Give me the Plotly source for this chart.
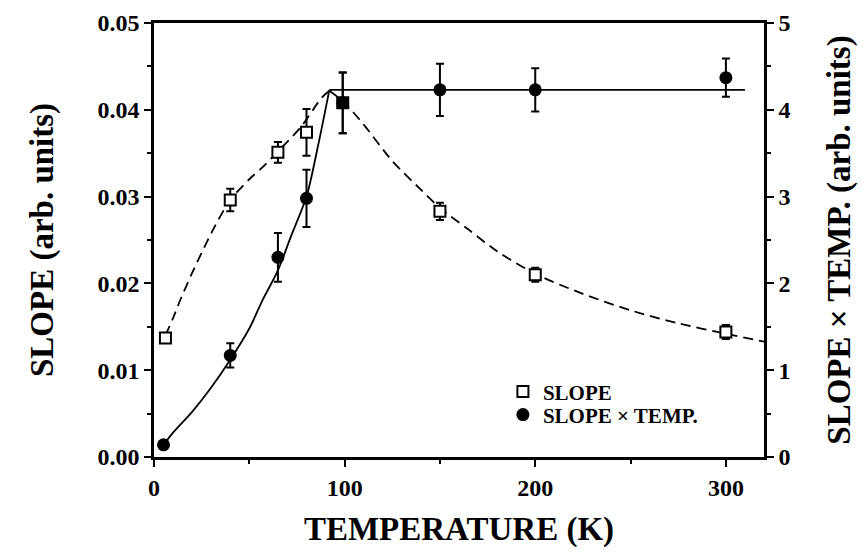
import plotly.graph_objects as go

# measured points
temp = [6, 40, 65, 80, 99, 150, 200, 300]
slope = [0.0137, 0.0296, 0.0351, 0.0374, 0.0408, 0.0283, 0.0210, 0.0144]
slope_err = [0.0004, 0.0013, 0.0012, 0.0027, 0.0035, 0.0010, 0.0008, 0.0008]
slope_fill = ['white', 'white', 'white', 'white', 'black', 'white', 'white', 'white']

temp_st = [5, 40, 65, 80, 99, 150, 200, 300]
slope_t = [0.14, 1.17, 2.30, 2.98, 4.08, 4.23, 4.23, 4.37]
slope_t_err = [0.0, 0.14, 0.28, 0.33, 0.35, 0.30, 0.25, 0.22]

# fit curves (rising and falling parts)
dash_up_t = [6, 10, 14, 20, 31, 40, 50, 57, 65, 77, 88, 92]
dash_up_y = [0.0140, 0.0160, 0.0182, 0.0212, 0.0262, 0.0296, 0.0320, 0.0334, 0.0352, 0.0380,
             0.0414, 0.0422]
dash_down_t = [92, 100, 110, 125, 140, 150, 165, 180, 200, 225, 250, 275, 300, 320]
dash_down_y = [0.0422, 0.0408, 0.0383, 0.0341, 0.0308, 0.0287, 0.0262, 0.0237, 0.0211,
               0.0188, 0.0169, 0.0154, 0.0142, 0.0133]

solid_up_t = [5, 10, 20, 30, 40, 50, 57, 65, 72, 80, 86, 92]
solid_up_y = [0.14, 0.28, 0.52, 0.80, 1.12, 1.48, 1.81, 2.15, 2.55, 3.00, 3.58, 4.23]
solid_flat_t = [92, 310]
solid_flat_y = [4.23, 4.23]

FONT = 'Liberation Serif'

fig = go.Figure()

for xs, ys in [(dash_up_t, dash_up_y), (dash_down_t, dash_down_y)]:
    fig.add_trace(go.Scatter(x=xs, y=ys, mode='lines',
                             line=dict(color='black', width=1.8, dash='10px,6px', shape='spline', smoothing=0.8),
                             showlegend=False, hoverinfo='skip'))
for xs, ys in [(solid_up_t, solid_up_y), (solid_flat_t, solid_flat_y)]:
    fig.add_trace(go.Scatter(x=xs, y=ys, mode='lines', yaxis='y2',
                             line=dict(color='black', width=1.8, shape='spline', smoothing=0.8),
                             showlegend=False, hoverinfo='skip'))

fig.add_trace(go.Scatter(
    x=temp, y=slope, mode='markers', name='SLOPE', legend='legend',
    marker=dict(symbol='square', size=11, color=slope_fill, line=dict(color='black', width=2)),
    error_y=dict(type='data', array=slope_err, color='black', thickness=2, width=4),
))
fig.add_trace(go.Scatter(
    x=temp_st, y=slope_t, mode='markers', name='SLOPE \u00d7 TEMP.', yaxis='y2', legend='legend2',
    marker=dict(symbol='circle', size=13, color='black'),
    error_y=dict(type='data', array=slope_t_err, color='black', thickness=2, width=4),
))

tick_font = dict(family=FONT, size=24, color='black', weight='bold')
title_font = dict(family=FONT, size=33, color='black', weight='bold')
tick_style = dict(ticks='outside', ticklen=7, tickwidth=2, tickcolor='black',
                  showline=True, linecolor='black', linewidth=2.5, automargin=False,
                  showgrid=False, zeroline=False, tickfont=tick_font)
minor_style = dict(ticks='outside', ticklen=4, tickwidth=2, tickcolor='black')
legend_style = dict(x=0.572, xanchor='left', yanchor='middle',
                    bgcolor='rgba(0,0,0,0)', itemwidth=30,
                    font=dict(family=FONT, size=21, color='black', weight='bold'))

fig.update_layout(
    width=868, height=556,
    margin=dict(l=146, r=112, t=15, b=107),
    plot_bgcolor='white', paper_bgcolor='white',
    xaxis=dict(range=[0, 320], tickvals=[0, 100, 200, 300], mirror=True,
               minor=dict(tickvals=[50, 150, 250], **minor_style),
               title=dict(text='TEMPERATURE (K)', font=title_font, standoff=18),
               **tick_style),
    yaxis=dict(range=[0, 0.05], tickvals=[0, 0.01, 0.02, 0.03, 0.04, 0.05],
               ticktext=['0.00', '0.01', '0.02', '0.03', '0.04', '0.05'],
               minor=dict(tickvals=[0.005, 0.015, 0.025, 0.035, 0.045], **minor_style),
               title=dict(text='SLOPE (arb. units)', font=title_font, standoff=34),
               **tick_style),
    yaxis2=dict(range=[0, 5], tickvals=[0, 1, 2, 3, 4, 5], overlaying='y', side='right',
                minor=dict(tickvals=[0.5, 1.5, 2.5, 3.5, 4.5], **minor_style),
                title=dict(text='SLOPE \u00d7 TEMP. (arb. units)', font=title_font, standoff=38),
                **tick_style),
    legend=dict(y=0.150, **legend_style),
    legend2=dict(y=0.097, **legend_style),
    showlegend=True,
)

fig.write_html('out.html')
